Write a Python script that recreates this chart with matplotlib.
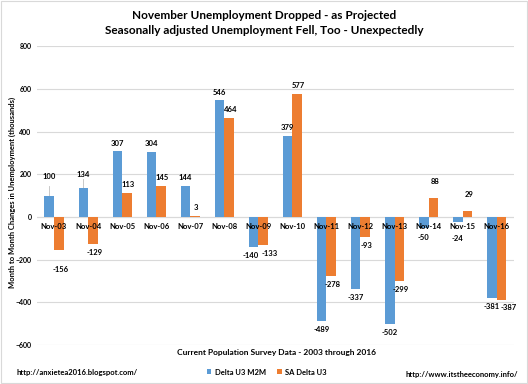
import matplotlib
matplotlib.use('Agg')
import matplotlib.pyplot as plt
import numpy as np

plt.rcParams['font.family'] = ['Lato', 'DejaVu Sans']

# data
years = ['Nov-03', 'Nov-04', 'Nov-05', 'Nov-06', 'Nov-07', 'Nov-08', 'Nov-09',
         'Nov-10', 'Nov-11', 'Nov-12', 'Nov-13', 'Nov-14', 'Nov-15', 'Nov-16']
m2m = [100, 134, 307, 304, 144, 546, -140, 379, -489, -337, -502, -50, -24, -381]
sa = [-156, -129, 113, 145, 3, 464, -133, 577, -278, -93, -299, 88, 29, -387]

blue = '#5B9BD5'
orange = '#ED7D31'

fig = plt.figure(figsize=(5.28, 3.84), dpi=100)
ax = fig.add_axes([0.070, 0.1016, 0.903, 0.778])

x = np.arange(len(years))
w = 0.28
ax.bar(x - w / 2, m2m, w, color=blue, label='Delta U3 M2M', zorder=3)
ax.bar(x + w / 2, sa, w, color=orange, label='SA Delta U3', zorder=3)

ax.set_xlim(-0.5, len(years) - 0.5)
ax.set_ylim(-600, 800)
ax.set_yticks(np.arange(-600, 801, 200))
ax.tick_params(axis='y', length=0, labelsize=5, pad=4)
for t in ax.get_yticklabels():
    t.set_fontweight('bold')
ax.set_xticks([])
for s in ax.spines.values():
    s.set_visible(False)
ax.grid(axis='y', color='#D9D9D9', lw=0.8, zorder=0)
ax.axhline(0, color='#D9D9D9', lw=0.8, zorder=1)

# category labels right under the zero line
for i, lab in enumerate(years):
    ax.annotate(lab, (i, 0), xytext=(0, -7), textcoords='offset points',
                ha='center', va='center', fontsize=5.5, fontweight='bold', zorder=4)

# data labels (extra offsets in points where the original moved them)
extra_b = {0: 8, 1: 4, 11: 1, 12: 6}
shift_b = {6: -2}
shift_o = {6: 4, 13: 4}
extra_o = {0: 8, 11: 6, 12: 6}
for i, v in enumerate(m2m):
    d = 6 + extra_b.get(i, 0)
    ax.annotate(str(v), (i - w / 2, v), xytext=(shift_b.get(i, 0), d if v > 0 else -d),
                textcoords='offset points', ha='center', va='center',
                fontsize=5.5, fontweight='bold', zorder=4)
    if i in (0, 1):
        ax.plot([i - w / 2, i - w / 2], [v, v + 45], color='#BFBFBF', lw=0.6, zorder=2)
for i, v in enumerate(sa):
    d = 6 + extra_o.get(i, 0)
    ax.annotate(str(v), (i + w / 2, v), xytext=(1 + shift_o.get(i, 0), d if v > 0 else -d),
                textcoords='offset points', ha='center', va='center',
                fontsize=5.5, fontweight='bold', zorder=4)

fig.text(0.5, 0.905, 'November Unemployment Dropped - as Projected\n'
         'Seasonally adjusted Unemployment Fell, Too - Unexpectedly',
         ha='center', va='bottom', fontsize=8.5, fontweight='bold', linespacing=1.5)
fig.text(0.023, 0.50, 'Month to Month Changes in Unemployment (thousands)',
         rotation=90, ha='center', va='center', fontsize=5.5, fontweight='bold')
fig.text(0.523, 0.083, 'Current Population Survey Data - 2003 through 2016',
         ha='center', va='center', fontsize=6, fontweight='bold')

leg = fig.legend(loc='center', bbox_to_anchor=(0.505, 0.031), ncol=2, frameon=False,
                 fontsize=5.5, handlelength=0.6, handleheight=0.6, columnspacing=1.5,
                 handletextpad=0.4)
for t in leg.get_texts():
    t.set_fontweight('bold')

fig.text(0.032, 0.031, 'http://anxietea2016.blogspot.com/', ha='left', va='center',
         fontsize=5.5, fontweight='bold')
fig.text(0.982, 0.025, 'http://www.itstheeconomy.info/', ha='right', va='center',
         fontsize=5.5, fontweight='bold')

fig.patches.append(plt.Rectangle((0.002, 0.003), 0.996, 0.994, transform=fig.transFigure,
                                 fill=False, edgecolor='#D9D9D9', lw=0.8))

fig.savefig('out.png', dpi=100)
